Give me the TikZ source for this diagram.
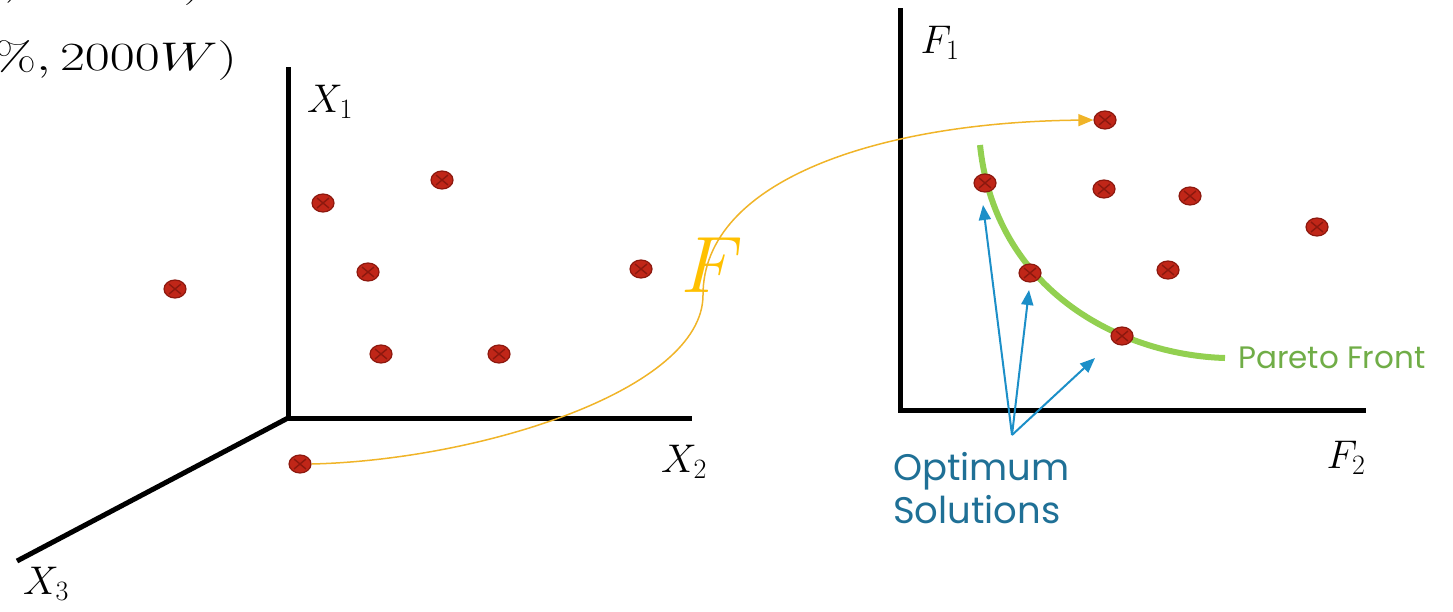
\documentclass[tikz,border=0pt]{standalone}
\usepackage{fix-cm}
\usepackage{fontspec}
\newfontfamily\labelfont{Poppins}
\usetikzlibrary{arrows.meta,shapes.geometric}
\definecolor{dotred}{RGB}{192,38,24}
\definecolor{dotedge}{RGB}{140,24,14}
\definecolor{paretogreen}{RGB}{146,208,80}
\definecolor{paretotext}{RGB}{112,173,71}
\definecolor{optblue}{RGB}{28,143,200}
\definecolor{opttext}{RGB}{31,112,150}
\definecolor{mapyellow}{RGB}{240,180,40}
\definecolor{Fyellow}{RGB}{255,192,0}
\tikzset{
  axis/.style={line width=5pt, line cap=butt},
  sol/.style={ellipse, draw=dotedge, fill=dotred, line width=1.2pt,
    minimum width=22pt, minimum height=18pt, inner sep=0pt,
    path picture={\draw[dotedge, line width=1.4pt]
      ([shift={(-6pt,5pt)}]path picture bounding box.center) -- ([shift={(6pt,-5pt)}]path picture bounding box.center)
      ([shift={(-6pt,-5pt)}]path picture bounding box.center) -- ([shift={(6pt,5pt)}]path picture bounding box.center);}},
  mathlbl/.style={font=\fontsize{40}{48}\selectfont, inner sep=0pt},
  bluearrow/.style={optblue, line width=2pt, -{Triangle[length=15pt,width=12pt]}},
}
\begin{document}
\begin{tikzpicture}[x=1pt,y=-1pt]
\useasboundingbox (0,0) rectangle (1453,611);
% top-left clipped text
\node[mathlbl, anchor=base east] (tl1) at (203,-5) {\scalebox{1.36}[1]{$(25\%, 1000W)$}};
\node[mathlbl, anchor=base east] (tl2) at (237,70) {\scalebox{1.36}[1]{$(25\%, 2000W)$}};
% left axes
\coordinate (O1) at (288,418);
\coordinate (X1end) at (288,67);
\coordinate (X2end) at (692,418);
\coordinate (X3end) at (17,561);
\draw[axis] (X1end) -- (O1) -- (X2end);
\draw[axis] (O1) -- (X3end);
\node[mathlbl] (x1) at (330,102) {$X_1$};
\node[mathlbl] (x2) at (684,462) {$X_2$};
\node[mathlbl] (x3) at (46,584) {$X_3$};
% right axes
\coordinate (O2) at (900,410);
\coordinate (F1end) at (900,8);
\coordinate (F2end) at (1366,410);
\draw[axis] (F1end) -- (O2) -- (F2end);
\node[mathlbl] (f1) at (940,43) {$F_1$};
\node[mathlbl] (f2) at (1346,458) {$F_2$};
% pareto front
\draw[paretogreen, line width=6pt] (980,145) .. controls (995,290) and (1120,355) .. (1225,358);
\node[font=\labelfont\fontsize{31}{36}\selectfont, text=paretotext, anchor=west, inner sep=0pt] (pf) at (1238,358) {Pareto Front};
% left dots
\node[sol] (a1) at (175,289) {};
\node[sol] (a2) at (323,203) {};
\node[sol] (a3) at (442,180) {};
\node[sol] (a4) at (368,272) {};
\node[sol] (a5) at (641,269) {};
\node[sol] (a6) at (381,354) {};
\node[sol] (a7) at (499,354) {};
\node[sol] (a8) at (300,464) {};
% right dots
\node[sol] (b1) at (1105,120) {};
\node[sol] (b2) at (985,183) {};
\node[sol] (b3) at (1104,189) {};
\node[sol] (b4) at (1190,196) {};
\node[sol] (b5) at (1317,227) {};
\node[sol] (b6) at (1030,273) {};
\node[sol] (b7) at (1168,270) {};
\node[sol] (b8) at (1122,336) {};
% mapping F
\node[font=\fontsize{80}{90}\selectfont, text=Fyellow, inner sep=0pt] (Flbl) at (712,265) {$F$};
\draw[mapyellow, line width=1.5pt, -{Triangle[length=15pt,width=12pt]}]
  (a8.east) .. controls (480,460) and (703,390) .. (703,295)
  .. controls (703,180) and (880,122) .. (b1.west);
% optimum solutions
\coordinate (os) at (1012,435);
\coordinate (t1) at (983,205);
\coordinate (t2) at (1029,290);
\coordinate (t3) at (1095,358);
\draw[bluearrow] (os) -- (t1);
\draw[bluearrow] (os) -- (t2);
\draw[bluearrow] (os) -- (t3);
\node[font=\labelfont\fontsize{37}{43}\selectfont, text=opttext, align=left, anchor=north west, inner sep=0pt] (optlbl) at (893,452) {Optimum\\Solutions};
\end{tikzpicture}
\end{document}
